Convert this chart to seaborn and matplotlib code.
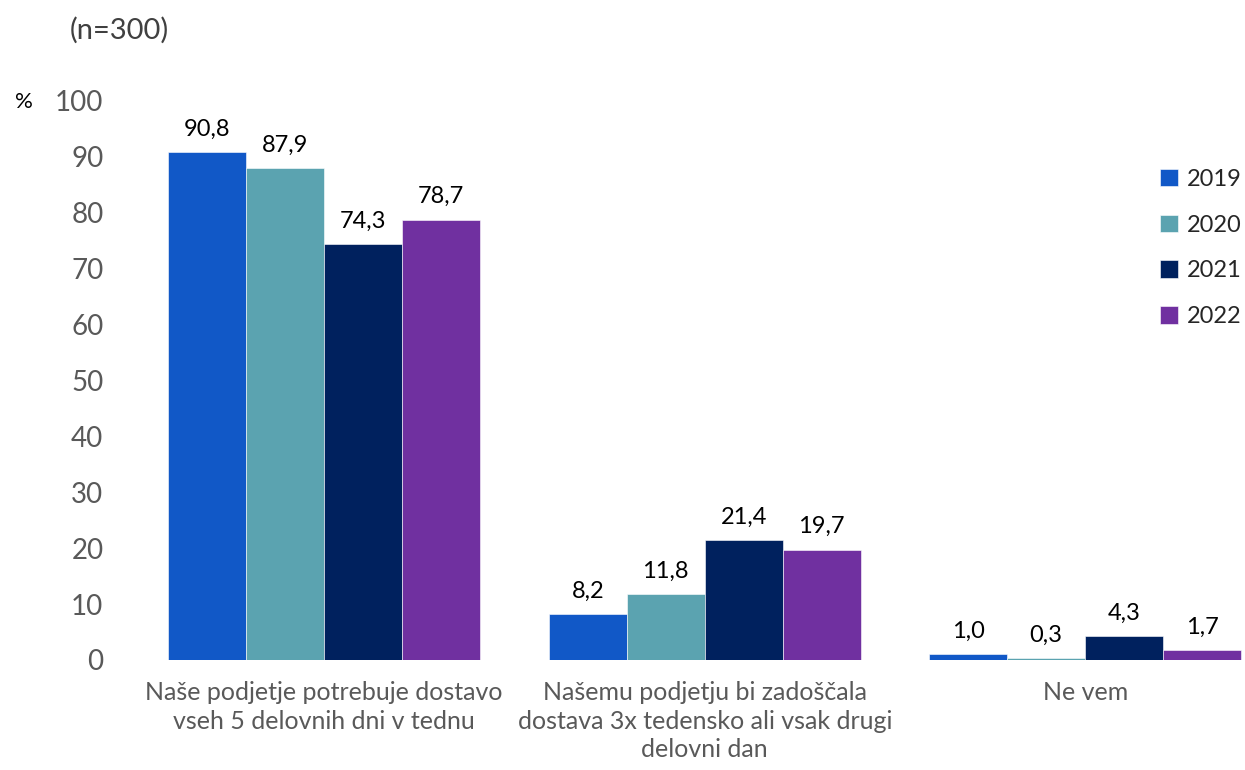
import pandas as pd
import seaborn as sns
import matplotlib
matplotlib.use('Agg')
import matplotlib.pyplot as plt

categories = ['Naše podjetje potrebuje dostavo\nvseh 5 delovnih dni v tednu',
              'Našemu podjetju bi zadoščala\ndostava 3x tedensko ali vsak drugi\ndelovni dan',
              'Ne vem']
years = ['2019', '2020', '2021', '2022']
v2019 = [90.8, 8.2, 1.0]
v2020 = [87.9, 11.8, 0.3]
v2021 = [74.3, 21.4, 4.3]
v2022 = [78.7, 19.7, 1.7]
colors = ['#1158C7', '#5BA3B0', '#00215E', '#7030A0']

rows = []
for yr, vals in zip(years, [v2019, v2020, v2021, v2022]):
    for c, v in zip(categories, vals):
        rows.append({'cat': c, 'year': yr, 'val': v})
df = pd.DataFrame(rows)

sns.set_style('white')
plt.rcParams['font.family'] = ['Lato', 'DejaVu Sans']

fig = plt.figure(figsize=(12.45, 7.7), dpi=100)
ax = fig.add_axes([0.1076, 0.1429, 0.8924, 0.7265])

sns.barplot(data=df, x='cat', y='val', hue='year', palette=colors,
            width=0.82, saturation=1, ax=ax, edgecolor='white', linewidth=0.4)

for cont in ax.containers:
    labs = [f'{v:.1f}'.replace('.', ',') for v in cont.datavalues]
    ax.bar_label(cont, labels=labs, padding=9, fontsize=17, color='black')

ax.set_ylim(0, 100)
ax.set_xlim(-0.5, 2.42)
ax.set_yticks(range(0, 101, 10))
ax.tick_params(axis='y', labelsize=20, labelcolor='#595959', length=0, pad=22)
ax.tick_params(axis='x', labelsize=18, labelcolor='#595959', length=0, pad=15)
for t in ax.get_xticklabels():
    t.set_linespacing(1.3)
ax.set_xlabel('')
ax.set_ylabel('')
sns.despine(left=True, bottom=True)

ax.legend(loc='upper right', bbox_to_anchor=(1.006, 0.895), frameon=False,
          fontsize=17, handlelength=0.75, handleheight=0.75, handletextpad=0.4,
          labelspacing=1.05, borderaxespad=0)

fig.text(0.056, 0.978, '(n=300)', fontsize=21, color='#404040', va='top')
fig.text(0.012, 0.868, '%', fontsize=16, color='black', va='center')

fig.savefig('out.png', dpi=100)
